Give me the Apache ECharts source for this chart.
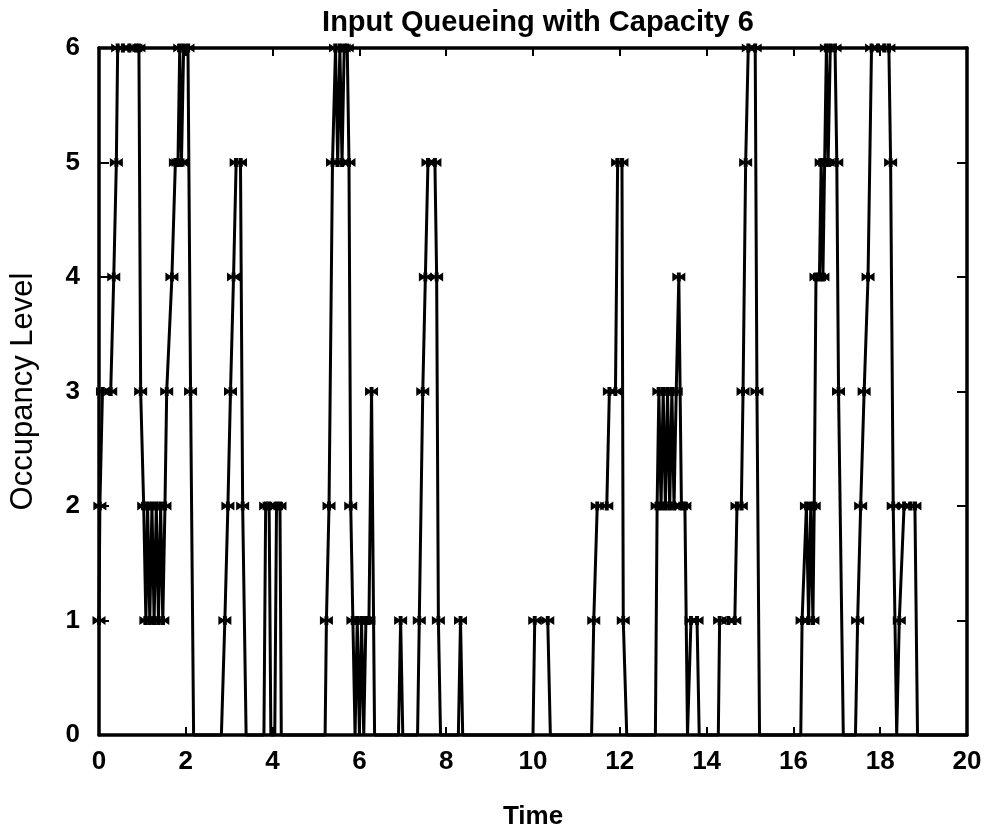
<!DOCTYPE html>
<html>
<head>
<meta charset="utf-8">
<script src="https://cdn.jsdelivr.net/npm/echarts@6/dist/echarts.min.js"></script>
<style>
html,body{margin:0;padding:0;background:#fff;}
#chart{width:991px;height:836px;}
</style>
</head>
<body>
<div id="chart"></div>
<script>
// Sample times (x) and occupancy levels (y)
var times = [
  0, 0.02, 0.08, 0.27, 0.34, 0.40, 0.43, 0.55, 0.70, 0.85, 0.92, 0.96, 1.03,
  1.08, 1.12, 1.17, 1.22, 1.27, 1.32, 1.37, 1.42, 1.47, 1.52, 1.56, 1.68, 1.76, 1.82, 1.86, 1.90, 1.95, 2.05, 2.11, 2.18,
  2.82, 2.90, 2.97, 3.03, 3.10, 3.16, 3.26, 3.31, 3.39,
  3.80, 3.84, 3.92, 3.96, 4.05, 4.09, 4.17, 4.20,
  5.21, 5.24, 5.30, 5.38, 5.45, 5.50, 5.55, 5.60, 5.65, 5.72, 5.76, 5.80, 5.85, 5.90, 5.95, 6.00, 6.05, 6.10, 6.15, 6.22, 6.28, 6.35,
  6.90, 6.95, 7.00,
  7.34, 7.38, 7.46, 7.52, 7.58, 7.74, 7.78, 7.82, 7.87,
  8.28, 8.33, 8.38,
  10.00, 10.04, 10.34, 10.40,
  11.35, 11.40, 11.48, 11.70, 11.76, 11.90, 11.95, 12.05, 12.08, 12.16,
  12.82, 12.86, 12.90, 12.95, 13.00, 13.05, 13.10, 13.15, 13.20, 13.25, 13.30, 13.36, 13.42, 13.50, 13.56,
  13.60, 13.64, 13.78, 13.83,
  14.27, 14.30, 14.50, 14.65, 14.70, 14.80, 14.84, 14.90, 14.96, 15.12, 15.16, 15.22,
  16.17, 16.20, 16.30, 16.35, 16.40, 16.45, 16.48, 16.52, 16.60, 16.64, 16.68, 16.72, 16.76, 16.80, 16.85, 16.96, 17.00, 17.04, 17.15,
  17.43, 17.48, 17.55, 17.63, 17.72, 17.80, 17.95, 18.10, 18.20, 18.24, 18.30, 18.38, 18.44, 18.55, 18.70, 18.80, 18.86,
  20.00
];
var occupancy = [
  1, 2, 3, 3, 4, 5, 6, 6, 6, 6, 6, 3, 2,
  1, 2, 1, 2, 1, 2, 1, 2, 1, 2, 3, 4, 5, 5, 6, 5, 6, 6, 3, 0,
  0, 1, 2, 3, 4, 5, 5, 2, 0,
  0, 2, 2, 0, 0, 2, 2, 0,
  0, 1, 2, 5, 6, 5, 6, 5, 6, 6, 5, 2, 1, 0, 1, 0, 1, 0, 1, 1, 3, 0,
  0, 1, 0,
  0, 1, 3, 4, 5, 5, 4, 1, 0,
  0, 1, 0,
  0, 1, 1, 0,
  0, 1, 2, 2, 3, 3, 5, 5, 1, 0,
  0, 2, 3, 2, 3, 2, 3, 2, 3, 2, 3, 4, 2, 2, 0,
  0, 1, 1, 0,
  0, 1, 1, 1, 2, 2, 3, 5, 6, 6, 3, 0,
  0, 1, 2, 1, 2, 1, 2, 4, 4, 5, 4, 5, 6, 5, 6, 6, 5, 3, 0,
  0, 1, 2, 3, 4, 6, 6, 6, 6, 5, 2, 0, 1, 2, 2, 2, 0,
  0
];
var xTicks = [0, 2, 4, 6, 8, 10, 12, 14, 16, 18, 20];
var yTicks = [0, 1, 2, 3, 4, 5, 6];

var FONT = '"Liberation Sans", Arial, Helvetica, sans-serif';
var seriesData = times.map(function (t, i) {
  var item = { value: [t, occupancy[i]] };
  if (occupancy[i] === 0) item.symbol = 'none';
  return item;
});

var chart = echarts.init(document.getElementById('chart'), null, { renderer: 'canvas' });
var axisLine = { show: true, onZero: false, lineStyle: { color: '#000', width: 3.5 } };
chart.setOption({
  animation: false,
  backgroundColor: '#fff',
  title: {
    text: 'Input Queueing with Capacity 6',
    left: 533, top: 3, textAlign: 'center',
    textStyle: { fontFamily: FONT, fontWeight: 'bold', fontSize: 29, color: '#000' }
  },
  grid: { left: 95, right: 24, top: 48, bottom: 101 },
  xAxis: [{
    type: 'value', min: 0, max: 20, interval: 2, position: 'bottom',
    name: 'Time', nameLocation: 'middle', nameGap: 69,
    nameTextStyle: { fontFamily: FONT, fontWeight: 'bold', fontSize: 26, color: '#000' },
    axisLine: axisLine,
    axisTick: { show: true, inside: true, length: 8, lineStyle: { color: '#000', width: 2 } },
    axisLabel: { margin: 14, fontFamily: FONT, fontWeight: 'bold', fontSize: 26, color: '#000',
      formatter: function (v) { return xTicks.indexOf(v) >= 0 ? String(v) : ''; } },
    splitLine: { show: false }
  }, {
    type: 'value', min: 0, max: 20, interval: 2, position: 'top',
    axisLine: axisLine,
    axisTick: { show: true, inside: true, length: 8, lineStyle: { color: '#000', width: 2 } },
    axisLabel: { show: false }, splitLine: { show: false }
  }],
  yAxis: [{
    type: 'value', min: 0, max: 6, interval: 1, position: 'left',
    name: 'Occupancy Level', nameLocation: 'middle', nameGap: 60, nameRotate: 90,
    nameTextStyle: { fontFamily: FONT, fontWeight: 'normal', fontSize: 31, color: '#000' },
    axisLine: axisLine,
    axisTick: { show: true, inside: true, length: 10, lineStyle: { color: '#000', width: 2 } },
    axisLabel: { margin: 19, fontFamily: FONT, fontWeight: 'bold', fontSize: 26, color: '#000',
      formatter: function (v) { return yTicks.indexOf(v) >= 0 ? String(v) : ''; } },
    splitLine: { show: false }
  }, {
    type: 'value', min: 0, max: 6, interval: 1, position: 'right',
    axisLine: axisLine,
    axisTick: { show: true, inside: true, length: 10, lineStyle: { color: '#000', width: 2 } },
    axisLabel: { show: false }, splitLine: { show: false }
  }],
  series: [{
    type: 'line',
    xAxisIndex: 0, yAxisIndex: 0,
    data: seriesData,
    symbol: 'path://M0,0L3.5,2L3.5,0L6.5,0L6.5,2L10,0L10,6L6.5,4L6.5,6L3.5,6L3.5,4L0,6Z',
    symbolSize: [13, 9],
    showAllSymbol: true,
    lineStyle: { color: '#000', width: 3 },
    itemStyle: { color: '#000' },
    clip: false
  }]
});
</script>
</body>
</html>
